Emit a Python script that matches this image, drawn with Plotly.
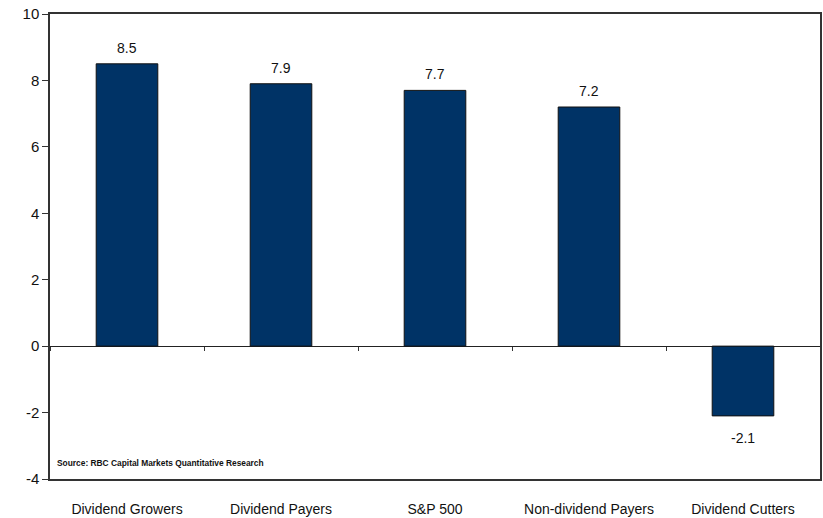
import plotly.graph_objects as go

categories = ["Dividend Growers", "Dividend Payers", "S&P 500", "Non-dividend Payers", "Dividend Cutters"]
values = [8.5, 7.9, 7.7, 7.2, -2.1]
value_labels = ["8.5", "7.9", "7.7", "7.2", "-2.1"]
y_ticks = [-4, -2, 0, 2, 4, 6, 8, 10]
y_tick_text = ["-4", "-2", "0", "2", "4", "6", "8", "10"]

FONT = "Liberation Sans, Arial, sans-serif"

fig = go.Figure()
fig.add_trace(go.Bar(
    x=categories, y=values, width=0.4,
    marker=dict(color="#003366", line=dict(color="#111111", width=1)),
    hoverinfo="skip",
))

for c, v, t in zip(categories, values, value_labels):
    fig.add_annotation(x=c, y=v, text=t, showarrow=False,
                       yshift=16 if v >= 0 else -22,
                       font=dict(family=FONT, size=14, color="#111111"))

fig.add_annotation(xref="paper", yref="paper", x=0.007, y=0.035, xanchor="left", yanchor="middle",
                   text="<b>Source: RBC Capital Markets Quantitative Research</b>", showarrow=False,
                   font=dict(family=FONT, size=8.4, color="#111111"))

fig.update_layout(
    width=823, height=518,
    margin=dict(l=50, r=1, t=14, b=39),
    paper_bgcolor="white", plot_bgcolor="white",
    showlegend=False,
    font=dict(family=FONT, size=14, color="#111111"),
    xaxis=dict(type="category", showline=True, mirror=True, linecolor="#333333", linewidth=1.5,
               ticks="outside", ticklen=16, tickcolor="rgba(0,0,0,0)", showgrid=False,
               tickfont=dict(family=FONT, size=14)),
    xaxis2=dict(type="category", overlaying="x", anchor="free", position=4/14, side="bottom",
                matches="x", ticks="outside", tickson="boundaries", ticklen=4, tickcolor="#333333",
                showticklabels=False, showline=False, showgrid=False),
    yaxis=dict(range=[-4, 10], tickvals=y_ticks, ticktext=y_tick_text, showline=True, mirror=True,
               linecolor="#333333", linewidth=1.5, ticks="outside", ticklen=6, tickcolor="#333333",
               showgrid=False, zeroline=True, zerolinecolor="#222222", zerolinewidth=1,
               tickfont=dict(family=FONT, size=15)),
)
fig.add_trace(go.Bar(x=categories, y=[None]*5, xaxis="x2", hoverinfo="skip", showlegend=False))

fig.write_html("out.html")
